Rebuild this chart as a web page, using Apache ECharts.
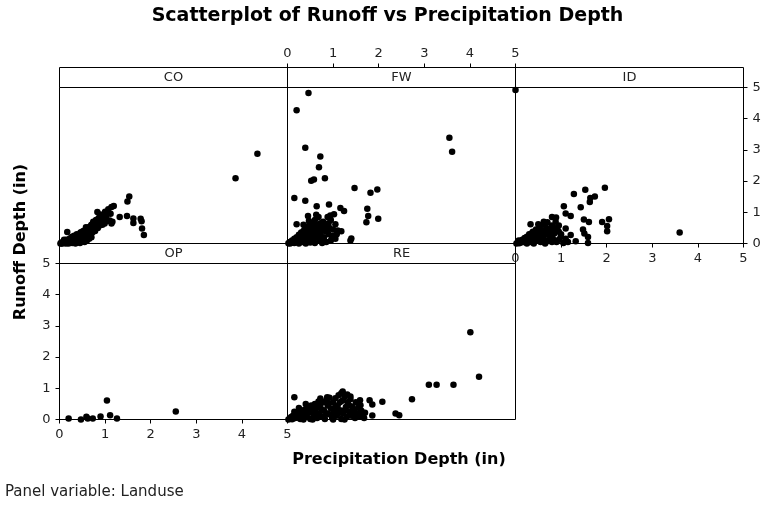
<!DOCTYPE html>
<html>
<head>
<meta charset="utf-8">
<script src="https://cdn.jsdelivr.net/npm/echarts@6/dist/echarts.min.js"></script>
<style>
html,body{margin:0;padding:0;background:#fff;}
#chart{width:775px;height:510px;}
</style>
</head>
<body>
<div id="chart"></div>
<script>
// ---------- DATA ----------
const panelNames = ['CO', 'FW', 'ID', 'OP', 'RE'];
const axisTicks = [0, 1, 2, 3, 4, 5];

const coData = [
  [0.02,0.00],[0.04,0.03],[0.06,0.01],[0.08,0.05],[0.10,0.02],[0.12,0.08],[0.14,0.00],[0.15,0.12],[0.17,0.37],[0.18,0.04],
  [0.20,0.10],[0.22,0.15],[0.24,0.06],[0.26,0.20],[0.28,0.02],[0.30,0.12],[0.32,0.25],[0.34,0.08],[0.36,0.18],[0.38,0.30],
  [0.40,0.04],[0.42,0.22],[0.44,0.14],[0.46,0.35],[0.48,0.26],[0.50,0.08],[0.52,0.40],[0.54,0.30],[0.56,0.18],[0.58,0.45],
  [0.60,0.36],[0.62,0.25],[0.64,0.52],[0.66,0.42],[0.68,0.32],[0.70,0.60],[0.72,0.48],[0.74,0.70],[0.76,0.55],[0.78,0.40],
  [0.80,0.75],[0.82,0.62],[0.83,1.01],[0.84,0.50],[0.86,0.82],[0.88,0.70],[0.90,0.93],[0.92,0.78],[0.94,0.60],[0.96,0.90],
  [0.99,0.64],[1.00,1.02],[1.02,0.85],[1.04,0.72],[1.07,1.10],[1.10,0.74],[1.12,0.95],[1.14,1.17],[1.14,0.64],[1.16,0.70],
  [1.19,1.20],[1.32,0.85],[1.48,0.88],[1.49,1.35],[1.53,1.51],[1.62,0.66],[1.62,0.80],[1.78,0.79],[1.80,0.71],[1.81,0.48],
  [1.85,0.27],[3.86,2.09],[4.34,2.88],
  [0.05,0.00],[0.20,0.00],[0.35,0.00],[0.45,0.02],[0.55,0.05],[0.25,0.10],[0.10,0.12],[0.30,0.05],[0.15,0.06],[0.40,0.16],
  [0.50,0.20],[0.60,0.10],[0.70,0.20],[0.65,0.15],[0.75,0.62],[0.85,0.68],[0.95,0.82],[0.58,0.52],[0.68,0.55],[0.78,0.50],
  [0.48,0.36],[0.38,0.20],[0.28,0.22],[0.62,0.40],[0.72,0.35],[0.88,0.58],[1.05,0.95],[0.98,0.80]
];

const fwData = [
  [0.46,4.82],[0.20,4.27],[0.39,3.07],[0.72,2.79],[0.69,2.44],[0.52,2.01],[0.58,2.05],[0.82,2.09],[3.55,3.39],[3.61,2.94],
  [1.47,1.78],[1.82,1.63],[1.97,1.73],[0.15,1.46],[0.39,1.37],[0.64,1.19],[0.91,1.25],[1.16,1.14],[1.24,1.04],[1.75,1.11],
  [1.77,0.88],[1.73,0.68],[1.99,0.79],[0.20,0.62],[0.94,0.90],[1.02,0.94],[1.18,0.39],[1.40,0.16],[0.76,0.02],[1.38,0.10],
  [0.02,0.01],[0.05,0.05],[0.08,0.02],[0.10,0.10],[0.12,0.04],[0.15,0.15],[0.18,0.06],[0.20,0.20],[0.22,0.10],[0.25,0.28],
  [0.28,0.14],[0.30,0.35],[0.32,0.05],[0.35,0.22],[0.38,0.45],[0.40,0.12],[0.42,0.30],[0.45,0.55],[0.45,0.88],[0.48,0.20],
  [0.50,0.40],[0.52,0.65],[0.55,0.08],[0.55,0.30],[0.58,0.50],[0.60,0.75],[0.62,0.20],[0.63,0.92],[0.65,0.40],[0.68,0.60],
  [0.70,0.10],[0.72,0.30],[0.75,0.50],[0.78,0.70],[0.80,0.20],[0.82,0.40],[0.85,0.60],[0.88,0.85],[0.90,0.30],[0.92,0.50],
  [0.95,0.75],[0.98,0.20],[1.00,0.45],[1.05,0.62],[1.08,0.30],[1.10,0.42],[0.60,0.02],[0.40,0.00],[0.25,0.00],[0.85,0.05],
  [0.50,0.03],[0.35,0.60],[0.68,0.85],[0.47,0.72],[0.30,0.15],[0.40,0.35],[0.55,0.45],[0.65,0.25],[0.75,0.15],[0.50,0.15],
  [0.60,0.60],[0.70,0.45],[0.80,0.55],[0.90,0.65],[1.00,0.25],[0.45,0.08],[0.35,0.40],[0.62,0.35],[0.72,0.65],[0.88,0.40],
  [0.15,0.02],[0.05,0.00],[0.95,0.10],[1.05,0.15]
];

const idData = [
  [0.00,4.92],[3.60,0.35],[1.96,1.79],[1.53,1.72],[1.28,1.59],[1.64,1.46],[1.74,1.51],[1.63,1.33],[1.06,1.19],[1.43,1.16],
  [1.10,0.96],[1.21,0.88],[0.80,0.85],[0.89,0.83],[1.50,0.77],[1.61,0.69],[1.90,0.69],[2.05,0.78],[2.01,0.56],[2.01,0.39],
  [1.48,0.45],[1.51,0.32],[1.59,0.21],[1.59,0.02],[1.32,0.07],[0.33,0.62],[0.95,0.58],[1.10,0.48],[1.21,0.27],[0.99,0.21],
  [0.07,0.10],
  [0.02,0.00],[0.05,0.04],[0.08,0.01],[0.10,0.08],[0.12,0.03],[0.15,0.12],[0.18,0.05],[0.20,0.18],[0.22,0.08],[0.25,0.22],
  [0.28,0.12],[0.30,0.30],[0.32,0.05],[0.35,0.20],[0.38,0.38],[0.40,0.10],[0.42,0.28],[0.45,0.45],[0.48,0.15],[0.50,0.35],
  [0.52,0.52],[0.55,0.05],[0.55,0.25],[0.58,0.42],[0.60,0.60],[0.62,0.15],[0.65,0.32],[0.68,0.50],[0.70,0.68],[0.72,0.08],
  [0.75,0.25],[0.78,0.40],[0.80,0.58],[0.82,0.15],[0.85,0.32],[0.88,0.70],[0.90,0.05],[0.92,0.45],[0.95,0.12],[1.00,0.30],
  [1.05,0.02],[1.10,0.15],[1.15,0.05],[0.40,0.00],[0.65,0.00],[0.25,0.00],[0.50,0.62],[0.62,0.70],[0.45,0.22],[0.35,0.32],
  [0.58,0.20],[0.68,0.30],[0.78,0.20],[0.72,0.45],[0.85,0.50],[0.50,0.10],[0.30,0.15],[0.62,0.40],[0.95,0.38],[0.80,0.05]
];

const opData = [
  [0.20,0.03],[0.47,0.00],[0.59,0.09],[0.62,0.03],[0.73,0.03],[0.90,0.10],[1.04,0.61],[1.11,0.14],[1.26,0.03],[2.55,0.26]
];

const reData = [
  [4.01,2.80],[4.20,1.37],[3.10,1.11],[3.27,1.11],[3.64,1.11],[2.73,0.65],[2.08,0.57],[1.80,0.62],[1.86,0.48],[2.37,0.19],
  [2.45,0.14],[1.86,0.13],[0.15,0.71],[1.18,0.84],[1.31,0.80],[1.38,0.74],[1.59,0.62],[1.60,0.46],[0.72,0.67],[0.87,0.71],
  [0.25,0.37],[1.21,0.90],
  [0.02,0.00],[0.05,0.03],[0.08,0.08],[0.10,0.01],[0.12,0.12],[0.15,0.04],[0.18,0.18],[0.20,0.06],[0.22,0.22],[0.25,0.10],
  [0.28,0.02],[0.30,0.28],[0.32,0.14],[0.35,0.05],[0.38,0.32],[0.40,0.18],[0.42,0.08],[0.45,0.40],[0.48,0.22],[0.50,0.02],
  [0.52,0.45],[0.55,0.28],[0.58,0.12],[0.60,0.50],[0.62,0.35],[0.65,0.05],[0.68,0.58],[0.70,0.20],[0.72,0.42],[0.75,0.10],
  [0.78,0.55],[0.80,0.30],[0.82,0.02],[0.85,0.62],[0.88,0.45],[0.90,0.18],[0.92,0.70],[0.95,0.35],[0.98,0.05],[1.00,0.55],
  [1.02,0.25],[1.05,0.68],[1.08,0.12],[1.10,0.45],[1.12,0.78],[1.15,0.30],[1.18,0.02],[1.20,0.60],[1.22,0.20],[1.25,0.72],
  [1.28,0.40],[1.30,0.08],[1.32,0.55],[1.35,0.25],[1.38,0.65],[1.40,0.12],[1.42,0.42],[1.45,0.30],[1.48,0.05],[1.50,0.55],
  [1.52,0.20],[1.55,0.38],[1.58,0.10],[1.62,0.28],[1.65,0.15],[1.68,0.05],[1.70,0.22],[0.55,0.00],[0.35,0.00],[1.00,0.00],
  [1.25,0.00],[0.15,0.25],[0.40,0.50],[0.65,0.40],[0.75,0.30],[0.90,0.50],[1.05,0.40],[1.15,0.55],[1.25,0.30],[1.35,0.45],
  [0.50,0.30],[0.85,0.20],[0.95,0.15],[1.12,0.20],[1.45,0.15],[0.60,0.20]
];

const panelData = [coData, fwData, idData, opData, reData];

// ---------- LAYOUT ----------
const FONT = 'DejaVu Sans';
const colLeft = [59.5, 287.5, 515.5];
const rowHeadTop = [67.5, 243.5];
const HEAD_H = 20;
const PANEL_W = 228;
const PLOT_H = 156;
const panelPos = [[0,0],[1,0],[2,0],[0,1],[1,1]]; // [col,row]

const axisShow = {
  CO: {top:false, bottom:false, left:false, right:false},
  FW: {top:true,  bottom:false, left:false, right:false},
  ID: {top:false, bottom:true,  left:false, right:true},
  OP: {top:false, bottom:true,  left:true,  right:false},
  RE: {top:false, bottom:false, left:false, right:false}
};

const grids = [], xAxes = [], yAxes = [], series = [], graphics = [];
const labelStyle = {fontFamily: FONT, fontSize: 13, color: '#222'};

panelNames.forEach((name, i) => {
  const [c, r] = panelPos[i];
  const left = colLeft[c];
  const headTop = rowHeadTop[r];
  const top = headTop + HEAD_H;
  grids.push({left: left, top: top, width: PANEL_W, height: PLOT_H, show: true,
              borderColor: '#000', borderWidth: 1, backgroundColor: 'transparent', containLabel: false});
  const s = axisShow[name];
  const xTop = s.top;
  const xShow = s.top || s.bottom;
  xAxes.push({
    gridIndex: i, type: 'value', min: 0, max: 5, interval: 1,
    position: xTop ? 'top' : 'bottom',
    offset: xTop ? HEAD_H : 0,
    axisLine: {show: xShow, onZero: false, lineStyle: {color: '#000', width: 1}},
    axisTick: {show: xShow, length: 4, lineStyle: {color: '#000'}},
    axisLabel: {show: xShow, margin: xTop ? 7 : 9, ...labelStyle, formatter: v => axisTicks.includes(v) ? String(v) : ''},
    splitLine: {show: false}
  });
  const yShow = s.left || s.right;
  yAxes.push({
    gridIndex: i, type: 'value', min: 0, max: 5, interval: 1,
    position: s.right ? 'right' : 'left',
    axisLine: {show: yShow, onZero: false, lineStyle: {color: '#000', width: 1}},
    axisTick: {show: yShow, length: 4, lineStyle: {color: '#000'}},
    axisLabel: {show: yShow, margin: 9, ...labelStyle, formatter: v => axisTicks.includes(v) ? String(v) : ''},
    splitLine: {show: false}
  });
  series.push({
    type: 'scatter', xAxisIndex: i, yAxisIndex: i, data: panelData[i],
    symbol: 'circle', symbolSize: 6.5, clip: false,
    itemStyle: {color: '#000', opacity: 1}, emphasis: {disabled: true}, silent: true, z: 5
  });
  graphics.push({
    type: 'rect', shape: {x: left, y: headTop, width: PANEL_W, height: HEAD_H},
    style: {fill: 'none', stroke: '#000', lineWidth: 1}, z: 1, silent: true
  });
  graphics.push({
    type: 'text', x: left + PANEL_W / 2, y: headTop + HEAD_H / 2 + 0.5,
    style: {text: name, fontFamily: FONT, fontSize: 13, fill: '#222', textAlign: 'center', textVerticalAlign: 'middle'},
    z: 1, silent: true
  });
});

graphics.push({
  type: 'text', x: 399, y: 460,
  style: {text: 'Precipitation Depth (in)', fontFamily: FONT, fontSize: 16, fontWeight: 'bold', fill: '#000',
          textAlign: 'center', textVerticalAlign: 'middle'}, silent: true
});
graphics.push({
  type: 'text', x: 21, y: 242, rotation: Math.PI / 2,
  style: {text: 'Runoff Depth (in)', fontFamily: FONT, fontSize: 16, fontWeight: 'bold', fill: '#000',
          textAlign: 'center', textVerticalAlign: 'middle'}, silent: true
});
graphics.push({
  type: 'text', x: 5, y: 492,
  style: {text: 'Panel variable: Landuse', fontFamily: FONT, fontSize: 15, fill: '#222',
          textAlign: 'left', textVerticalAlign: 'middle'}, silent: true
});

const chart = echarts.init(document.getElementById('chart'), null, {renderer: 'canvas'});
chart.setOption({
  animation: false,
  backgroundColor: '#fff',
  title: {
    text: 'Scatterplot of Runoff vs Precipitation Depth', left: 'center', top: 2,
    textStyle: {fontFamily: FONT, fontSize: 19, fontWeight: 'bold', color: '#000'}
  },
  grid: grids,
  xAxis: xAxes,
  yAxis: yAxes,
  series: series,
  graphic: graphics
});
</script>
</body>
</html>
